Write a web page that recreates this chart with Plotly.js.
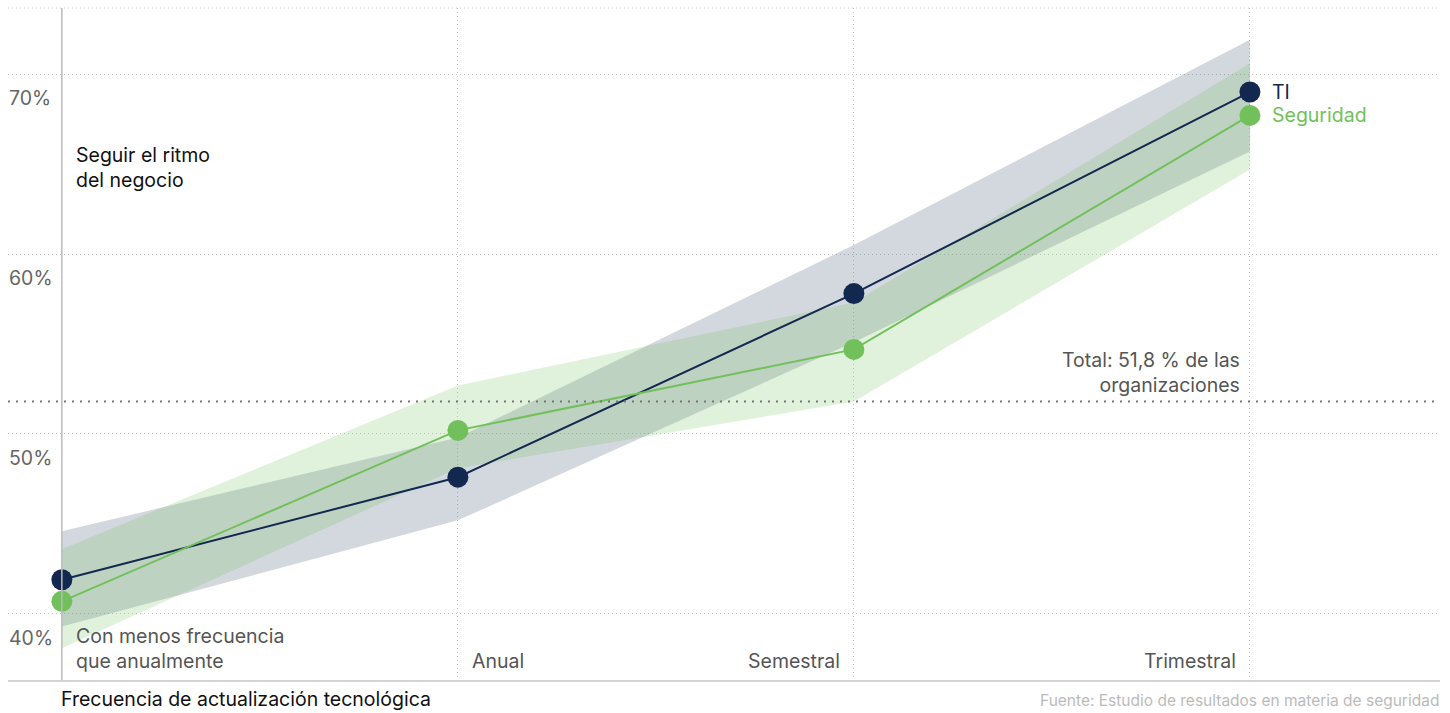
<!DOCTYPE html>
<html>
<head>
<meta charset="utf-8">
<script src="https://cdn.plot.ly/plotly-3.0.1.min.js"></script>
<style>html,body{margin:0;padding:0;background:#fff;}#chart{width:1450px;height:713px;}</style>
</head>
<body>
<div id="chart"></div>
<script>
// Categories (x positions 0..3)
const categories = ["Con menos frecuencia<br>que anualmente", "Anual", "Semestral", "Trimestral"];
const catIndex = [0, 1, 2, 3];

// Series values (%)
const tiValues = [41.9, 47.6, 57.8, 69.0];
const tiUpper = [44.6, 49.8, 60.5, 71.9];
const tiLower = [39.3, 45.2, 55.1, 65.7];

const segValues = [40.7, 50.2, 54.7, 67.7];
const segUpper = [43.6, 52.7, 57.3, 70.6];
const segLower = [38.1, 48.1, 51.8, 64.7];

const totalValue = 51.8;
const yTickVals = [40, 50, 60, 70];
const yTickText = ["40%", "50%", "60%", "70%"];

const NAVY = "#13284f";
const GREEN = "#72c05b";
const FONT = "Inter, Liberation Sans, Arial, sans-serif";
const FS = 19.5;

function band(up, lo) {
  return {
    x: catIndex.concat(catIndex.slice().reverse()),
    y: up.concat(lo.slice().reverse())
  };
}
const tiBand = band(tiUpper, tiLower);
const segBand = band(segUpper, segLower);

const traces = [
  {x: tiBand.x, y: tiBand.y, type: "scatter", mode: "lines", fill: "toself",
   fillcolor: "rgba(19,40,79,0.19)", line: {width: 0}, hoverinfo: "skip", showlegend: false},
  {x: segBand.x, y: segBand.y, type: "scatter", mode: "lines", fill: "toself",
   fillcolor: "rgba(114,192,91,0.21)", line: {width: 0}, hoverinfo: "skip", showlegend: false},
  {x: catIndex, y: tiValues, type: "scatter", mode: "lines+markers", name: "TI",
   line: {color: NAVY, width: 2}, marker: {color: NAVY, size: 21}, showlegend: false},
  {x: catIndex, y: segValues, type: "scatter", mode: "lines+markers", name: "Seguridad",
   line: {color: GREEN, width: 2}, marker: {color: GREEN, size: 21}, showlegend: false}
];

const annotations = [];
// y tick labels
yTickVals.forEach((v, i) => {
  annotations.push({xref: "paper", x: 0, yref: "y", y: v, text: yTickText[i],
    xanchor: "left", yanchor: "top", yshift: -10, xshift: -1, showarrow: false,
    font: {family: FONT, size: FS, color: "#666"}});
});
// category labels
const catAnchor = ["left", "left", "right", "right"];
categories.forEach((c, i) => {
  annotations.push({xref: "x", x: catIndex[i], yref: "paper", y: 0, text: c,
    xanchor: catAnchor[i], yanchor: "bottom", xshift: catAnchor[i] === "left" ? 12 : -12,
    yshift: 5, align: "left", showarrow: false,
    font: {family: FONT, size: FS, color: "#555"}});
});
// legend labels at last point
annotations.push({xref: "x", x: 3, yref: "y", y: tiValues[3], text: "TI", xanchor: "left",
  xshift: 20, showarrow: false, font: {family: FONT, size: FS, color: NAVY}});
annotations.push({xref: "x", x: 3, yref: "y", y: segValues[3], text: "Seguridad", xanchor: "left",
  xshift: 20, showarrow: false, font: {family: FONT, size: FS, color: GREEN}});
// total label
annotations.push({xref: "x", x: 3, yref: "y", y: totalValue, text: "Total: 51,8 % de las<br>organizaciones",
  xanchor: "right", yanchor: "bottom", xshift: -8, yshift: 3, align: "right", showarrow: false,
  font: {family: FONT, size: FS, color: "#555"}});
// y axis label
annotations.push({xref: "x", x: 0, yref: "y", y: 66.3, text: "Seguir el ritmo<br>del negocio",
  xanchor: "left", yanchor: "top", xshift: 12, align: "left", showarrow: false,
  font: {family: FONT, size: FS, color: "#111"}});
// x axis title
annotations.push({xref: "x", x: 0, yref: "paper", y: 0, text: "Frecuencia de actualización tecnológica",
  xanchor: "left", yanchor: "top", yshift: -6, xshift: -2, borderpad: 0, showarrow: false,
  font: {family: FONT, size: FS, color: "#111"}});
// source
annotations.push({xref: "paper", x: 1, yref: "paper", y: 0, text: "Fuente: Estudio de resultados en materia de seguridad",
  xanchor: "right", yanchor: "top", yshift: -10, borderpad: 0, showarrow: false,
  font: {family: FONT, size: 15.5, color: "#bbb"}});

const shapes = [
  // top dotted line
  {type: "line", xref: "paper", x0: 0, x1: 1, yref: "paper", y0: 1, y1: 1,
   line: {color: "#ccc", width: 1, dash: "1px,3px"}},
  // solid vertical line at first category
  {type: "line", xref: "x", x0: 0, x1: 0, yref: "paper", y0: 0, y1: 1,
   line: {color: "#bbb", width: 1.5}},
  // total line
  {type: "line", xref: "paper", x0: 0, x1: 1, yref: "y", y0: totalValue, y1: totalValue,
   line: {color: "#777", width: 2, dash: "2px,6px"}}
];

const layout = {
  width: 1450, height: 713,
  margin: {l: 8, r: 10, t: 8, b: 33},
  paper_bgcolor: "#fff", plot_bgcolor: "#fff",
  showlegend: false,
  hovermode: false,
  xaxis: {range: [-0.136, 3.48], tickvals: [1, 2, 3], showticklabels: false,
    showgrid: true, gridcolor: "#c8c8c8", griddash: "1px,3px", gridwidth: 1,
    zeroline: false, showline: true, linecolor: "#d4d4d4", linewidth: 1.5, fixedrange: true},
  yaxis: {range: [36.33, 73.67], tickvals: yTickVals, showticklabels: false,
    showgrid: true, gridcolor: "#c8c8c8", griddash: "1px,3px", gridwidth: 1,
    zeroline: false, showline: false, fixedrange: true},
  annotations: annotations,
  shapes: shapes
};

Plotly.newPlot("chart", traces, layout, {displayModeBar: false, staticPlot: true});
</script>
</body>
</html>
